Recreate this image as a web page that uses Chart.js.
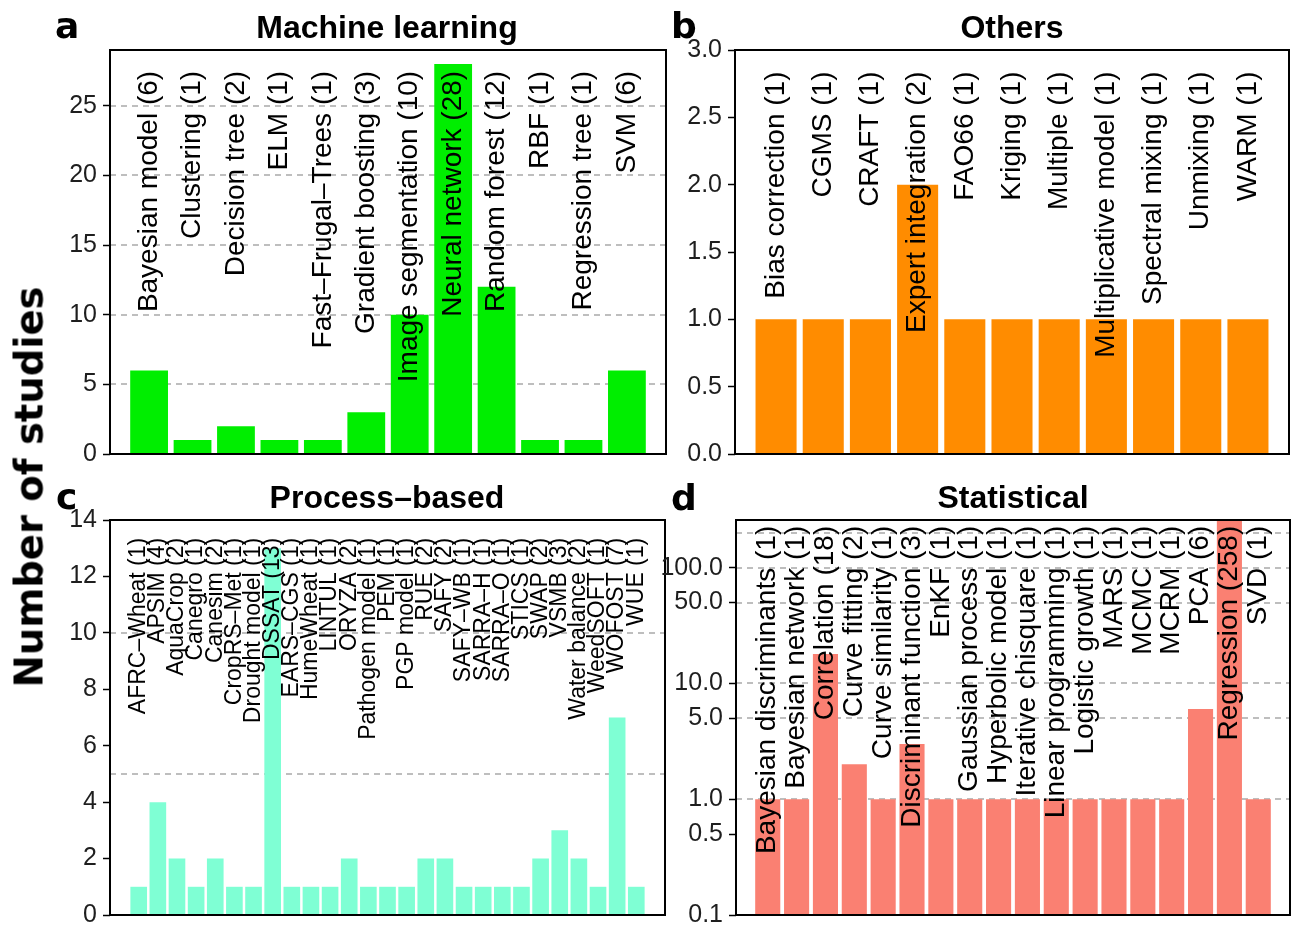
<!DOCTYPE html>
<html>
<head>
<meta charset="utf-8">
<script src="https://cdn.jsdelivr.net/npm/chart.js@4.4.1/dist/chart.umd.min.js"></script>
<style>
  html, body { margin: 0; padding: 0; background: #fff; }
  #wrap { position: relative; width: 1301px; height: 936px; overflow: hidden; background: #fff; }
  #wrap canvas { position: absolute; left: 0; top: 0; }
  .txt { position: absolute; white-space: nowrap; line-height: 1; color: #000; }
  .panel-title { font: bold 32px "Liberation Sans", Arial, sans-serif; transform: translateX(-50%); }
  .panel-tag { font: bold 36px "DejaVu Sans", sans-serif; }
  .y-title { font: bold 38.5px "DejaVu Sans", sans-serif; transform: translate(-50%, -50%) rotate(-90deg); }
</style>
</head>
<body>
<div id="wrap">
  <canvas id="chartML" width="1301" height="936"></canvas>
  <canvas id="chartOther" width="1301" height="936"></canvas>
  <canvas id="chartProcess" width="1301" height="936"></canvas>
  <canvas id="chartStat" width="1301" height="936"></canvas>

  <div class="txt panel-tag" style="left:55px; top:5px;">a</div>
  <div class="txt panel-title" style="left:387px; top:9px;">Machine learning</div>
  <div class="txt panel-tag" style="left:671px; top:5px;">b</div>
  <div class="txt panel-title" style="left:1012px; top:9px;">Others</div>
  <div class="txt panel-tag" style="left:56px; top:476px;">c</div>
  <div class="txt panel-title" style="left:387px; top:479px;">Process–based</div>
  <div class="txt panel-tag" style="left:671px; top:477px;">d</div>
  <div class="txt panel-title" style="left:1013px; top:479px;">Statistical</div>
  <div class="txt y-title" style="left:29px; top:487px;">Number of studies</div>
</div>
<script>
// ---- Machine learning methods ----
const mlMethods = ["Bayesian model", "Clustering", "Decision tree", "ELM", "Fast–Frugal–Trees",
  "Gradient boosting", "Image segmentation", "Neural network", "Random forest", "RBF",
  "Regression tree", "SVM"];
const mlCounts = [6, 1, 2, 1, 1, 3, 10, 28, 12, 1, 1, 6];
const mlTicks = [0, 5, 10, 15, 20, 25];
const mlGrid = [5, 10, 15, 20, 25];

// ---- Other methods ----
const otherMethods = ["Bias correction", "CGMS", "CRAFT", "Expert integration", "FAO66", "Kriging",
  "Multiple", "Multiplicative model", "Spectral mixing", "Unmixing", "WARM"];
const otherCounts = [1, 1, 1, 2, 1, 1, 1, 1, 1, 1, 1];
const otherTicks = [0, 0.5, 1, 1.5, 2, 2.5, 3];
const otherGrid = [];

// ---- Process-based models ----
const processModels = ["AFRC–Wheat", "APSIM", "AquaCrop", "Canegro", "Canesim", "CropRS–Met",
  "Drought model", "DSSAT", "EARS–CGS", "HumeWheat", "LINTUL", "ORYZA", "Pathogen model", "PEM",
  "PGP model", "RUE", "SAFY", "SAFY–WB", "SARRA–H", "SARRA–O", "STICS", "SWAP", "VSMB",
  "Water balance", "WeedSOFT", "WOFOST", "WUE"];
const processCounts = [1, 4, 2, 1, 2, 1, 1, 13, 1, 1, 1, 2, 1, 1, 1, 2, 2, 1, 1, 1, 1, 2, 3, 2, 1, 7, 1];
const processTicks = [0, 2, 4, 6, 8, 10, 12, 14];
const processGrid = [5, 10];

// ---- Statistical methods (log axis) ----
const statMethods = ["Bayesian discriminants", "Bayesian network", "Correlation", "Curve fitting",
  "Curve similarity", "Discriminant function", "EnKF", "Gaussian process", "Hyperbolic model",
  "Iterative chisquare", "Linear programming", "Logistic growth", "MARS", "MCMC", "MCRM", "PCA",
  "Regression", "SVD"];
const statCounts = [1, 1, 18, 2, 1, 3, 1, 1, 1, 1, 1, 1, 1, 1, 1, 6, 258, 1];
const statTicks = [0.1, 0.5, 1, 5, 10, 50, 100];
const statGrid = [1, 5, 10, 50, 100, 200];

const W = 1301, H = 936;
const AXIS_W = 100;
const SANS = '"Liberation Sans", Arial, sans-serif';

// Dashed reference lines behind the bars, rotated bar labels and the panel frame on top.
const panelDecor = {
  id: 'panelDecor',
  beforeDatasetsDraw(chart, args, opts) {
    const { ctx, chartArea: a, scales: { y } } = chart;
    ctx.save();
    ctx.beginPath();
    ctx.rect(a.left, a.top, a.right - a.left, a.bottom - a.top);
    ctx.clip();
    ctx.strokeStyle = '#bebebe';
    ctx.lineWidth = 2;
    ctx.setLineDash([6, 5]);
    opts.grid.forEach(v => {
      const py = Math.round(y.getPixelForValue(v));
      ctx.beginPath();
      ctx.moveTo(a.left, py);
      ctx.lineTo(a.right, py);
      ctx.stroke();
    });
    ctx.restore();
  },
  afterDatasetsDraw(chart, args, opts) {
    const { ctx, chartArea: a, scales: { x, y } } = chart;
    ctx.save();
    ctx.font = opts.labelFont;
    ctx.fillStyle = '#000';
    ctx.textAlign = 'right';
    ctx.textBaseline = 'middle';
    const py = y.getPixelForValue(opts.labelAt);
    opts.labels.forEach((t, i) => {
      ctx.save();
      ctx.translate(x.getPixelForValue(i), py);
      ctx.rotate(-Math.PI / 2);
      ctx.fillText(t, 0, 0);
      ctx.restore();
    });
    ctx.strokeStyle = '#000';
    ctx.lineWidth = 2;
    ctx.setLineDash([]);
    ctx.strokeRect(a.left, a.top, a.right - a.left, a.bottom - a.top);
    ctx.restore();
  }
};

function makePanel(id, p) {
  const n = p.names.length;
  const labels = p.names.map((name, i) => `${name} (${p.counts[i]})`);
  return new Chart(document.getElementById(id), {
    type: 'bar',
    data: {
      datasets: [{
        data: p.counts.map((v, i) => ({ x: i, y: v })),
        backgroundColor: p.color,
        borderWidth: 0,
        barPercentage: 0.87,
        categoryPercentage: 1
      }]
    },
    options: {
      responsive: false,
      animation: false,
      devicePixelRatio: 1,
      layout: {
        padding: { left: p.box[0] - AXIS_W, top: p.box[1], right: W - p.box[2], bottom: H - p.box[3] }
      },
      plugins: {
        legend: { display: false },
        tooltip: { enabled: false },
        panelDecor: { grid: p.grid, labels, labelAt: p.labelAt, labelFont: p.labelFont }
      },
      scales: {
        x: { type: 'linear', offset: false, min: -p.pad, max: n - 1 + p.pad, display: false },
        y: {
          type: p.log ? 'logarithmic' : 'linear',
          min: p.ticks[0],
          max: p.max,
          afterFit(s) { s.width = AXIS_W; },
          afterBuildTicks(s) { s.ticks = p.ticks.map(v => ({ value: v })); },
          ticks: {
            autoSkip: false,
            padding: 6,
            color: '#1e1e1e',
            font: { family: SANS, size: 25 },
            callback: v => p.fmt(v)
          },
          grid: { drawOnChartArea: false, drawTicks: true, tickLength: 7, tickColor: '#000', tickWidth: 1.5 },
          border: { display: false }
        }
      }
    },
    plugins: [panelDecor]
  });
}

const intFmt = v => String(v);
const oneDec = v => Number(v).toFixed(1);

makePanel('chartML', {
  names: mlMethods, counts: mlCounts, ticks: mlTicks, grid: mlGrid, max: 29,
  color: '#00EE00', box: [110, 50, 666, 454], pad: 0.9, labelAt: 27.5,
  labelFont: '28px ' + SANS, fmt: intFmt
});
makePanel('chartOther', {
  names: otherMethods, counts: otherCounts, ticks: otherTicks, grid: otherGrid, max: 3,
  color: '#FF8C00', box: [735, 50, 1289, 454], pad: 0.87, labelAt: 2.84,
  labelFont: '28px ' + SANS, fmt: oneDec
});
makePanel('chartProcess', {
  names: processModels, counts: processCounts, ticks: processTicks, grid: processGrid, max: 14,
  color: '#7FFFD4', box: [110, 520, 665, 924], pad: 1.5, labelAt: 13.37,
  labelFont: '23px ' + SANS, fmt: intFmt
});
makePanel('chartStat', {
  names: statMethods, counts: statCounts, ticks: statTicks, grid: statGrid, max: 258, log: true,
  color: '#FA8072', box: [736, 520, 1290, 924], pad: 1.1, labelAt: 230,
  labelFont: '28px ' + SANS, fmt: oneDec
});
</script>
</body>
</html>
